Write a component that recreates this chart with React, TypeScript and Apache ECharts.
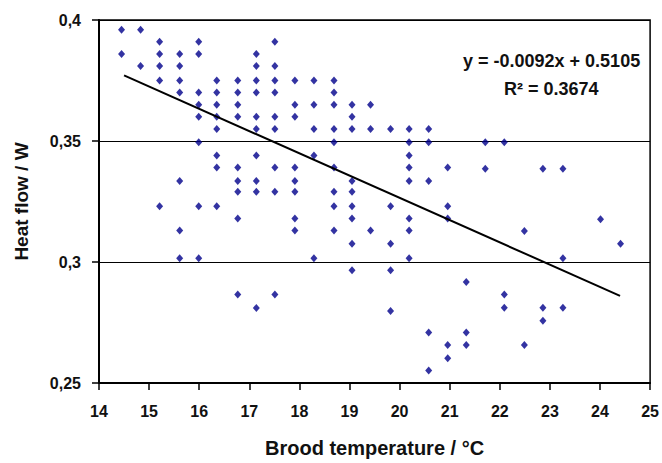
import React, { useEffect, useRef } from "react";
import * as echarts from "echarts";

// Brood temperature columns (°C) and the heat flow values (W) measured at each
const broodTemps = [
  14.45, 14.83, 15.21, 15.61, 15.99, 16.35, 16.77, 17.14, 17.51, 17.91, 18.29,
  18.69, 19.05, 19.42, 19.82, 20.19, 20.58, 20.96, 21.33, 21.71, 22.09, 22.49,
  22.86, 23.26, 24.01, 24.41,
];
const heatFlowByTemp = [
  [0.396, 0.386],
  [0.396, 0.381],
  [0.391, 0.386, 0.381, 0.375, 0.323],
  [0.386, 0.381, 0.375, 0.370, 0.3335, 0.313, 0.3016],
  [0.391, 0.386, 0.370, 0.365, 0.360, 0.3495, 0.323, 0.3016],
  [0.375, 0.370, 0.365, 0.360, 0.355, 0.344, 0.339, 0.323],
  [0.375, 0.370, 0.365, 0.360, 0.339, 0.3335, 0.329, 0.318, 0.2866],
  [0.386, 0.381, 0.375, 0.370, 0.360, 0.355, 0.344, 0.3335, 0.329, 0.281],
  [0.391, 0.381, 0.375, 0.370, 0.360, 0.355, 0.339, 0.329, 0.2866],
  [0.375, 0.365, 0.360, 0.339, 0.3335, 0.329, 0.318, 0.313],
  [0.375, 0.365, 0.355, 0.344, 0.3016],
  [0.375, 0.370, 0.365, 0.355, 0.3495, 0.339, 0.329, 0.323, 0.313],
  [0.365, 0.360, 0.355, 0.3335, 0.329, 0.323, 0.318, 0.3075, 0.2966],
  [0.365, 0.355, 0.313],
  [0.355, 0.323, 0.3075, 0.2966, 0.2798],
  [0.355, 0.3495, 0.344, 0.339, 0.3335, 0.318, 0.313, 0.3016],
  [0.355, 0.3495, 0.3335, 0.2709, 0.2552],
  [0.339, 0.323, 0.318, 0.2657, 0.2602],
  [0.2917, 0.2709, 0.2657],
  [0.3495, 0.3385],
  [0.3495, 0.2866, 0.2811],
  [0.3128, 0.2657],
  [0.3385, 0.2811, 0.2757],
  [0.3385, 0.3016, 0.2811],
  [0.3177],
  [0.3075],
];

// Linear trend line (from the printed regression equation)
const trendSlope = -0.0092;
const trendIntercept = 0.5105;
const trendRange = [14.5, 24.4];
const equationText = "y = -0.0092x + 0.5105";
const r2Text = "R² = 0.3674";

const xTicks = { min: 14, max: 25, interval: 1 };
const yTicks = { min: 0.25, max: 0.4, interval: 0.05 };

export default function App() {
  const ref = useRef<HTMLDivElement>(null);

  useEffect(() => {
    if (!ref.current) return;
    const chart = echarts.init(ref.current, null, { renderer: "svg" });

    const points: number[][] = [];
    broodTemps.forEach((t, i) => {
      heatFlowByTemp[i].forEach((q) => points.push([t, q]));
    });
    const trend = trendRange.map((x) => [x, trendSlope * x + trendIntercept]);

    const font = "Liberation Sans, Arial, sans-serif";

    chart.setOption({
      animation: false,
      backgroundColor: "#fff",
      grid: {
        left: 99,
        right: 10,
        top: 20,
        bottom: 77,
        show: true,
        borderColor: "#000",
        borderWidth: 1.5,
        backgroundColor: "transparent",
      },
      xAxis: {
        type: "value",
        min: xTicks.min,
        max: xTicks.max,
        interval: xTicks.interval,
        name: "Brood temperature / °C",
        nameLocation: "middle",
        nameGap: 55,
        nameTextStyle: { fontFamily: font, fontWeight: "bold", fontSize: 20, color: "#111" },
        axisLine: { show: true, onZero: false, lineStyle: { color: "#000", width: 2 } },
        axisTick: { show: true, inside: false, length: 7, lineStyle: { color: "#000", width: 1.5 } },
        axisLabel: { fontFamily: font, fontWeight: "bold", fontSize: 16, color: "#111", margin: 20 },
        splitLine: { show: false },
      },
      yAxis: {
        type: "value",
        min: yTicks.min,
        max: yTicks.max,
        interval: yTicks.interval,
        name: "Heat flow / W",
        nameLocation: "middle",
        nameGap: 68,
        nameTextStyle: { fontFamily: font, fontWeight: "bold", fontSize: 19, color: "#111" },
        axisLine: { show: true, onZero: false, lineStyle: { color: "#000", width: 2 } },
        axisTick: { show: true, inside: false, length: 7, lineStyle: { color: "#000", width: 1.5 } },
        axisLabel: {
          fontFamily: font,
          fontWeight: "bold",
          fontSize: 16,
          color: "#111",
          margin: 18,
          formatter: (v: number) => v.toFixed(2).replace(/0$/, "").replace(".", ","),
        },
        splitLine: { show: true, lineStyle: { color: "#000", width: 1 } },
      },
      graphic: [
        {
          type: "text",
          left: 463,
          top: 52,
          style: { text: equationText, fontFamily: font, fontWeight: "bold", fontSize: 18, fill: "#111" },
        },
        {
          type: "text",
          left: 504,
          top: 80,
          style: { text: r2Text, fontFamily: font, fontWeight: "bold", fontSize: 18, fill: "#111" },
        },
      ],
      series: [
        {
          type: "scatter",
          data: points,
          symbol: "diamond",
          symbolSize: [7, 8],
          itemStyle: { color: "#00008B" },
          z: 3,
        },
        {
          type: "line",
          data: trend,
          symbol: "none",
          lineStyle: { color: "#000", width: 2 },
          z: 4,
        },
      ],
    });

    return () => chart.dispose();
  }, []);

  return (
    <div
      ref={ref}
      style={{ position: "fixed", left: 0, top: 0, width: 662, height: 463 }}
    />
  );
}
